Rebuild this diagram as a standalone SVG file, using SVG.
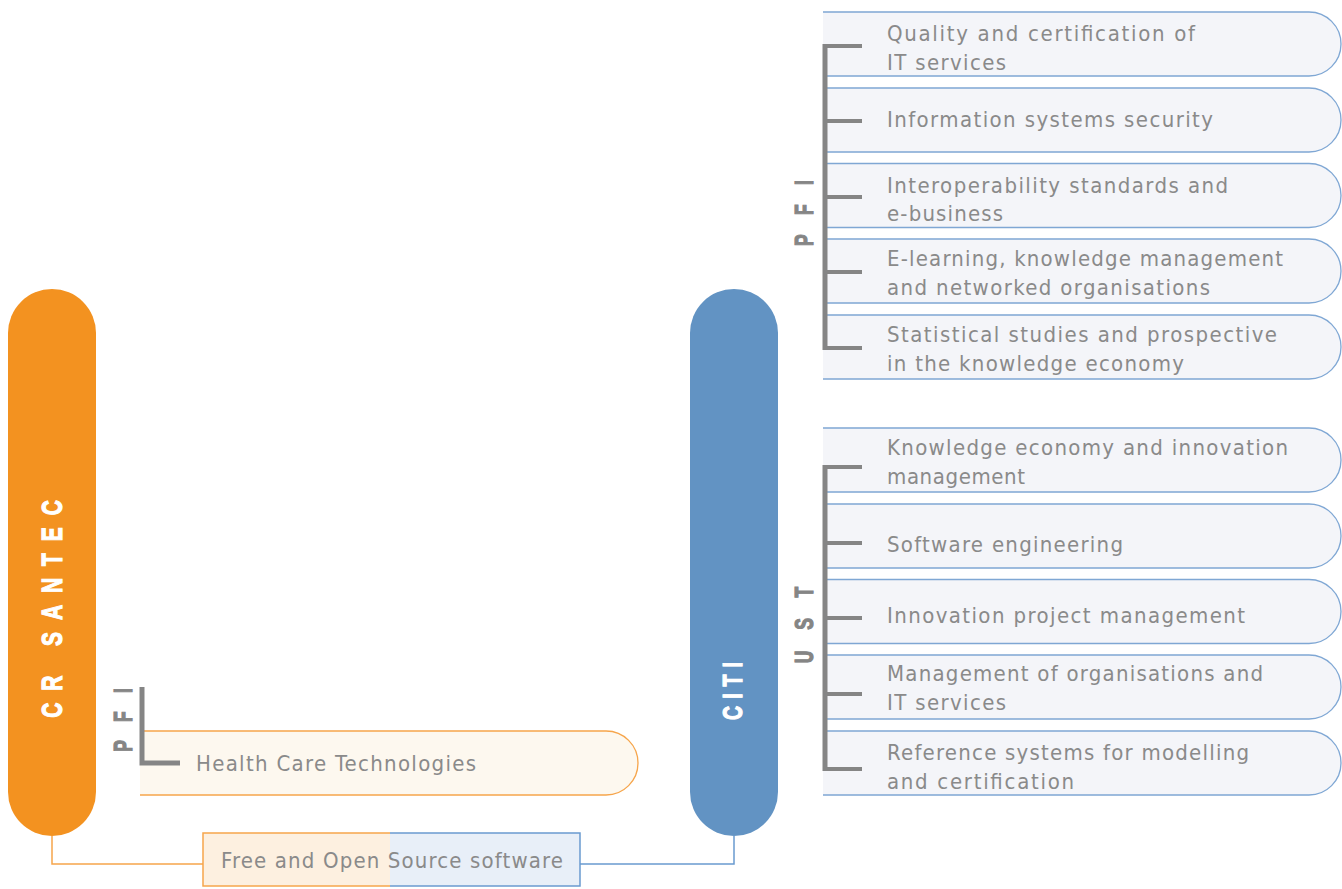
<svg xmlns="http://www.w3.org/2000/svg" width="1342" height="889" viewBox="0 0 1342 889">
<style>
.bx{fill:#F4F5F9;stroke:#7FA7D4;stroke-width:1.3}
.hb{fill:#FDF8EF;stroke:#F6A54B;stroke-width:1.3}
.t{font-family:"DejaVu Sans Condensed","DejaVu Sans",sans-serif;font-size:22px;fill:#8A8A8A}
.br{fill:none;stroke:#858585;stroke-width:5}
.tk{stroke:#858585;stroke-width:4}
.lbl{font-family:"Liberation Sans",Arial,sans-serif;font-weight:bold;fill:#858585;stroke:#858585;stroke-width:1.2}
.wl{font-family:"Liberation Sans",Arial,sans-serif;font-weight:bold;fill:#FFFFFF;stroke:#FFFFFF;stroke-width:1.2}
</style>
<defs>
<path id="rb" d="M823,0 H1309 A32,32 0 0 1 1341,32 A32,32 0 0 1 1309,64 H823"/>
</defs>

<g id="connectors">
<polyline points="52,836 52,864 203,864" fill="none" stroke="#F6A54B" stroke-width="1.5"/>
<polyline points="580,864 734,864 734,836" fill="none" stroke="#6A9BD0" stroke-width="1.5"/>
</g>

<g id="cr-santec">
<rect x="8" y="289" width="88" height="547" rx="44" ry="44" fill="#F39220"/>
<text class="wl" font-size="30" transform="translate(62,609) rotate(-90) scale(0.7,1)" text-anchor="middle" textLength="311" lengthAdjust="spacing">CR SANTEC</text>
</g>

<g id="citi">
<rect x="690" y="289" width="88" height="547" rx="44" ry="44" fill="#6293C3"/>
<text class="wl" font-size="28" transform="translate(742,691) rotate(-90) scale(0.7,1)" text-anchor="middle" textLength="83" lengthAdjust="spacing">CITI</text>
</g>

<g id="health-care">
<path class="hb" d="M140,731 H606 A32,32 0 0 1 638,763 A32,32 0 0 1 606,795 H140"/>
<text class="t" x="196" y="771" textLength="280" lengthAdjust="spacing">Health Care Technologies</text>
</g>

<g id="pfi-left">
<polyline class="br" points="142,687 142,763 180,763"/>
<text class="lbl" font-size="25" transform="translate(132,720) rotate(-90) scale(0.7,1)" text-anchor="middle" textLength="91" lengthAdjust="spacing">PFI</text>
</g>

<g id="foss">
<rect x="203" y="833" width="187" height="53" fill="#FDF0E0"/>
<rect x="390" y="833" width="190" height="53" fill="#E8EFF8"/>
<polyline points="390,833 203,833 203,886 390,886" fill="none" stroke="#F6A54B" stroke-width="1.5"/>
<polyline points="390,833 580,833 580,886 390,886" fill="none" stroke="#6A9BD0" stroke-width="1.5"/>
<text class="t" x="221" y="868" textLength="342" lengthAdjust="spacing">Free and Open Source software</text>
</g>

<g id="pfi-1">
<use href="#rb" class="bx" transform="translate(0,12)"/>
<text class="t" x="887" y="41" textLength="308" lengthAdjust="spacing">Quality and certification of</text>
<text class="t" x="887" y="70" textLength="119" lengthAdjust="spacing">IT services</text>
</g>
<g id="pfi-2">
<use href="#rb" class="bx" transform="translate(0,88)"/>
<text class="t" x="887" y="127" textLength="326" lengthAdjust="spacing">Information systems security</text>
</g>
<g id="pfi-3">
<use href="#rb" class="bx" transform="translate(0,163.5)"/>
<text class="t" x="887" y="193" textLength="341" lengthAdjust="spacing">Interoperability standards and</text>
<text class="t" x="887" y="221" textLength="116" lengthAdjust="spacing">e-business</text>
</g>
<g id="pfi-4">
<use href="#rb" class="bx" transform="translate(0,239)"/>
<text class="t" x="887" y="266" textLength="396" lengthAdjust="spacing">E-learning, knowledge management</text>
<text class="t" x="887" y="295" textLength="323" lengthAdjust="spacing">and networked organisations</text>
</g>
<g id="pfi-5">
<use href="#rb" class="bx" transform="translate(0,315)"/>
<text class="t" x="887" y="342" textLength="390" lengthAdjust="spacing">Statistical studies and prospective</text>
<text class="t" x="887" y="371" textLength="297" lengthAdjust="spacing">in the knowledge economy</text>
</g>

<g id="ust-1">
<use href="#rb" class="bx" transform="translate(0,428)"/>
<text class="t" x="887" y="455" textLength="401" lengthAdjust="spacing">Knowledge economy and innovation</text>
<text class="t" x="887" y="484" textLength="138" lengthAdjust="spacing">management</text>
</g>
<g id="ust-2">
<use href="#rb" class="bx" transform="translate(0,504)"/>
<text class="t" x="887" y="552" textLength="236" lengthAdjust="spacing">Software engineering</text>
</g>
<g id="ust-3">
<use href="#rb" class="bx" transform="translate(0,579.5)"/>
<text class="t" x="887" y="623" textLength="358" lengthAdjust="spacing">Innovation project management</text>
</g>
<g id="ust-4">
<use href="#rb" class="bx" transform="translate(0,655)"/>
<text class="t" x="887" y="681" textLength="376" lengthAdjust="spacing">Management of organisations and</text>
<text class="t" x="887" y="710" textLength="119" lengthAdjust="spacing">IT services</text>
</g>
<g id="ust-5">
<use href="#rb" class="bx" transform="translate(0,731)"/>
<text class="t" x="887" y="760" textLength="362" lengthAdjust="spacing">Reference systems for modelling</text>
<text class="t" x="887" y="789" textLength="187" lengthAdjust="spacing">and certification</text>
</g>

<g id="pfi-right">
<path class="br" d="M825,44 V350"/>
<line class="tk" x1="825" y1="46" x2="862" y2="46"/>
<line class="tk" x1="825" y1="121" x2="862" y2="121"/>
<line class="tk" x1="825" y1="197" x2="862" y2="197"/>
<line class="tk" x1="825" y1="272" x2="862" y2="272"/>
<line class="tk" x1="825" y1="348" x2="862" y2="348"/>
<text class="lbl" font-size="25" transform="translate(813,213) rotate(-90) scale(0.7,1)" text-anchor="middle" textLength="94" lengthAdjust="spacing">PFI</text>
</g>

<g id="ust">
<path class="br" d="M825,465 V771"/>
<line class="tk" x1="825" y1="467" x2="862" y2="467"/>
<line class="tk" x1="825" y1="543" x2="862" y2="543"/>
<line class="tk" x1="825" y1="618" x2="862" y2="618"/>
<line class="tk" x1="825" y1="694" x2="862" y2="694"/>
<line class="tk" x1="825" y1="769" x2="862" y2="769"/>
<text class="lbl" font-size="25" transform="translate(813,625) rotate(-90) scale(0.7,1)" text-anchor="middle" textLength="109" lengthAdjust="spacing">UST</text>
</g>
</svg>
